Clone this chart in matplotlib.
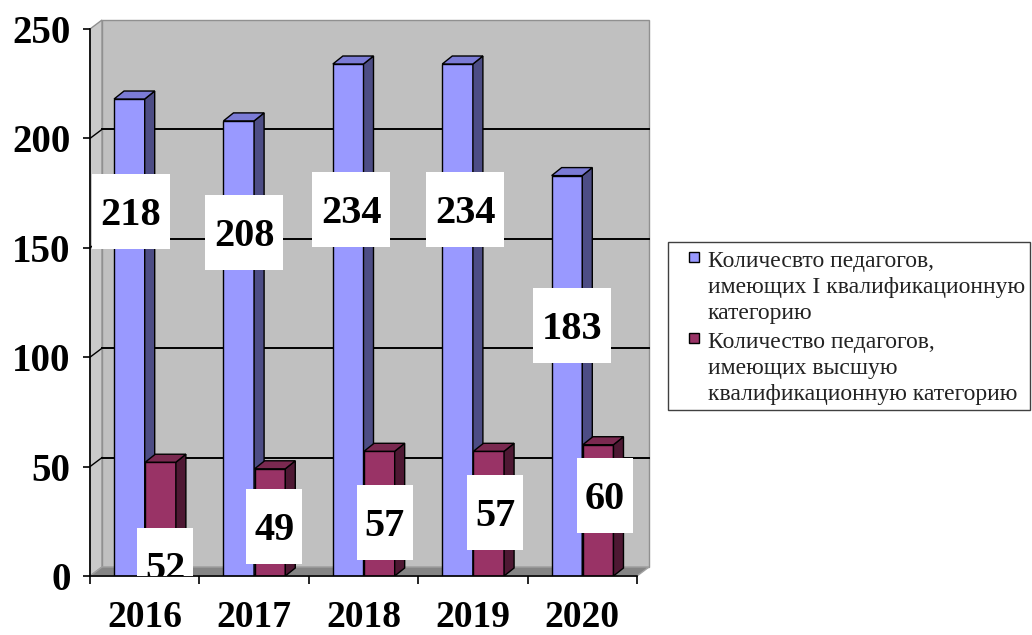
import matplotlib
matplotlib.use("Agg")
import matplotlib.pyplot as plt
from matplotlib.patches import Polygon, Rectangle
import numpy as np

# ---- data ----
years = ["2016", "2017", "2018", "2019", "2020"]
first_cat = [218, 208, 234, 234, 183]
highest_cat = [52, 49, 57, 57, 60]
series_names = ["Количесвто педагогов,\nимеющих I квалификационную\nкатегорию",
                "Количество педагогов,\nимеющих высшую\nквалификационную категорию"]
series_colors = ["#9999FF", "#993366"]
y_ticks = [0, 50, 100, 150, 200, 250]

# ---- layout (label placement, as in the original Excel 3D chart) ----
lbl_dx_first = [0.015, 0.05, 0.026, 0.07, 0.046]
lbl_y_first = [166.4, 157.0, 167.7, 167.5, 114.3]
lbl_dx_high = [0.045, 0.04, 0.05, 0.057, 0.058]
lbl_y_high = [4.8, 22.6, 24.5, 29.0, 36.8]

W, H = 1032, 635
fig = plt.figure(figsize=(W / 100, H / 100), dpi=100)
fig.patch.set_facecolor("white")

x0px, x1px, y0px, y1px = 90, 637, 576, 29
ax = fig.add_axes([x0px / W, (H - y0px) / H, (x1px - x0px) / W, (y0px - y1px) / H])
ax.set_facecolor("none")
ax.set_xlim(-0.5, 4.5)
ax.set_ylim(0, 250)

xs = (x1px - x0px) / 5.0          # px per x unit
ys = (y0px - y1px) / 250.0        # px per y unit
dxw, dyw = 12 / xs, 9 / ys        # wall depth
dxb, dyb = 10 / xs, 8 / ys        # bar depth

serif = "Liberation Serif"

# walls & floor
back = Polygon([(-0.5 + dxw, dyw), (4.5 + dxw, dyw), (4.5 + dxw, 250 + dyw), (-0.5 + dxw, 250 + dyw)],
               closed=True, fc="#C0C0C0", ec="#909090", lw=1, zorder=0, clip_on=False)
ax.add_patch(back)
left = Polygon([(-0.5, 0), (-0.5, 250), (-0.5 + dxw, 250 + dyw), (-0.5 + dxw, dyw)],
               closed=True, fc="#CACACA", ec="#909090", lw=1, zorder=0.1, clip_on=False)
ax.add_patch(left)
floor = Polygon([(-0.5, 0), (4.5, 0), (4.5 + dxw, dyw), (-0.5 + dxw, dyw)],
                closed=True, fc="#858585", ec="#A0A0A0", lw=1, zorder=0.2, clip_on=False)
ax.add_patch(floor)

for t in y_ticks[1:-1]:
    ax.plot([-0.5 + dxw, 4.5 + dxw], [t + dyw, t + dyw], color="black", lw=1.4, zorder=0.5, clip_on=False)
    ax.plot([-0.5, -0.5 + dxw], [t, t + dyw], color="black", lw=1.0, zorder=0.5, clip_on=False)


def bars3d(xpos, vals, front, side, top, z):
    rects = ax.bar(xpos, vals, width=0.28, color=front, edgecolor="black", linewidth=1.0, zorder=z)
    for r in rects:
        xl, w, h = r.get_x(), r.get_width(), r.get_height()
        ax.add_patch(Polygon([(xl + w, 0), (xl + w, h), (xl + w + dxb, h + dyb), (xl + w + dxb, dyb)],
                             closed=True, fc=side, ec="black", lw=1.0, zorder=z))
        ax.add_patch(Polygon([(xl, h), (xl + w, h), (xl + w + dxb, h + dyb), (xl + dxb, h + dyb)],
                             closed=True, fc=top, ec="black", lw=1.0, zorder=z))
    return rects


idx = np.arange(len(years))
bars3d(idx - 0.14, first_cat, series_colors[0], "#4D4D85", "#7B7BD6", 2)
bars3d(idx + 0.145, highest_cat, series_colors[1], "#4E1833", "#7A2950", 3)


def label(x, y, txt):
    w = (78 if len(txt) == 3 else 56) / xs
    h = 75 / ys
    ax.add_patch(Rectangle((x - w / 2, y - h / 2), w, h, fc="white", ec="none", zorder=6, clip_on=True))
    ax.text(x, y - 13.5 / ys, txt, ha="center", va="baseline", fontsize=29, fontweight="bold",
            family=serif, color="black", zorder=7, clip_on=True)


for i in idx:
    label(i - 0.14 + lbl_dx_first[i], lbl_y_first[i], str(first_cat[i]))
    label(i + 0.145 + lbl_dx_high[i], lbl_y_high[i], str(highest_cat[i]))

# axes styling
for s in ["top", "right"]:
    ax.spines[s].set_visible(False)
for s in ["left", "bottom"]:
    ax.spines[s].set_color("black")
    ax.spines[s].set_linewidth(1.2)
    ax.spines[s].set_zorder(4)

ax.set_yticks(y_ticks)
ax.set_yticklabels([str(t) for t in y_ticks], fontsize=28, fontweight="bold", family=serif)
ax.tick_params(axis="y", length=5, width=1.2, pad=9, direction="out")

ax.set_xticks(np.arange(-0.5, 5.0, 1.0))
ax.set_xticklabels([])
ax.tick_params(axis="x", which="major", length=6, width=1.2, direction="out")
ax.set_xticks(idx, minor=True)
ax.set_xticklabels(years, minor=True, fontsize=27, fontweight="bold", family=serif)
ax.tick_params(axis="x", which="minor", length=0, pad=17)

# ---- legend (drawn by hand to match the original's layout) ----
def fx(px):
    return px / W


def fy(py):
    return 1 - py / H


fig.add_artist(Rectangle((fx(668), fy(410)), fx(1030) - fx(668), fy(242) - fy(410),
                         transform=fig.transFigure, fc="white", ec="#404040", lw=1.0))
entry_top = [267, 348]      # baseline of first line of each entry, px
line_step = 26
for k, name in enumerate(series_names):
    b0 = entry_top[k]
    fig.add_artist(Rectangle((fx(689), fy(b0 - 5)), fx(10), 10 / H, transform=fig.transFigure,
                             fc=series_colors[k], ec="black", lw=1.0))
    for j, line in enumerate(name.split("\n")):
        fig.text(fx(708), fy(b0 + j * line_step), line, ha="left", va="baseline",
                 fontsize=17, family=serif, color="#222222")

fig.savefig("out.png", dpi=100)
